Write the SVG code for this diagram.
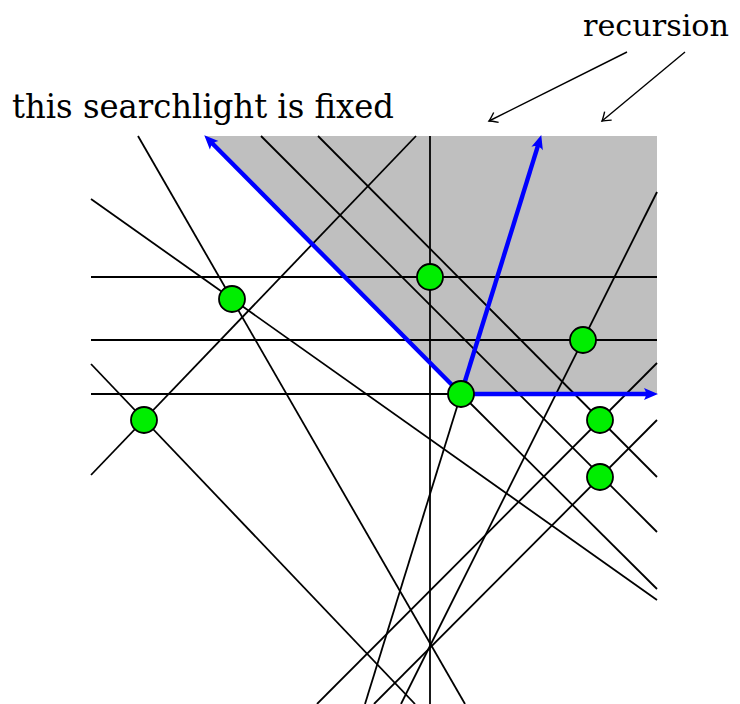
<svg xmlns="http://www.w3.org/2000/svg" width="740" height="704" viewBox="0 0 740 704">
  <style>
    .ln { stroke: #000; stroke-width: 1.8; fill: none; }
    .blue { stroke: #0000ff; stroke-width: 4.4; fill: none; marker-end: url(#bhead); }
    .ann { stroke: #000; stroke-width: 1.4; fill: none; marker-end: url(#tohead); }
    .pt { fill: #00ee00; stroke: #000; stroke-width: 1.8; }
    .lbl { font-family: "DejaVu Serif", "Liberation Serif", serif; font-size: 34px; fill: #000; }
  </style>
  <defs>
    <marker id="bhead" markerUnits="userSpaceOnUse" markerWidth="30" markerHeight="30" refX="0" refY="0" orient="auto" viewBox="-15 -15 30 30" overflow="visible">
      <path d="M8,0 L-6,-6 Q-2,0 -6,6 Z" fill="#0000ff"/>
    </marker>
    <marker id="tohead" markerUnits="userSpaceOnUse" markerWidth="30" markerHeight="30" refX="0" refY="0" orient="auto" viewBox="-15 -15 30 30" overflow="visible">
      <path d="M-8,-5.5 Q-2,-1 0,0 Q-2,1 -8,5.5" fill="none" stroke="#000" stroke-width="1.4"/>
    </marker>
  </defs>

  <polygon id="shade" points="205,136 657,136 657,394 461,394" fill="#bfbfbf"/>

  <g id="connectors">
    <line class="ln" x1="91" y1="277" x2="657" y2="277"/>
    <line class="ln" x1="91" y1="340" x2="657" y2="340"/>
    <line class="ln" x1="91" y1="394" x2="461" y2="394"/>
    <line class="ln" x1="430" y1="136" x2="430" y2="704"/>
    <line class="ln" x1="138" y1="136" x2="465" y2="704"/>
    <line class="ln" x1="91" y1="199" x2="657" y2="600"/>
    <line class="ln" x1="91" y1="475" x2="416" y2="136"/>
    <line class="ln" x1="91" y1="364" x2="415" y2="704"/>
    <line class="ln" x1="461" y1="394" x2="657" y2="589"/>
    <line class="ln" x1="365" y1="704" x2="461" y2="394"/>
    <line class="ln" x1="261" y1="136" x2="657" y2="532"/>
    <line class="ln" x1="318" y1="136" x2="657" y2="477"/>
    <line class="ln" x1="317" y1="704" x2="657" y2="363"/>
    <line class="ln" x1="374" y1="704" x2="657" y2="420"/>
    <line class="ln" x1="657" y1="192" x2="401" y2="704"/>

    <line class="blue" x1="461" y1="394" x2="209.9" y2="141"/>
    <line class="blue" x1="461" y1="394" x2="538.9" y2="142.7"/>
    <line class="blue" x1="461" y1="394" x2="650" y2="394"/>

    <line class="ann" x1="627" y1="52" x2="489" y2="121"/>
    <line class="ann" x1="685" y1="52" x2="602" y2="121"/>
  </g>

  <g id="p1"><circle class="pt" cx="232" cy="299" r="13"/></g>
  <g id="p2"><circle class="pt" cx="144" cy="420" r="13"/></g>
  <g id="p3"><circle class="pt" cx="430" cy="277" r="13"/></g>
  <g id="p4"><circle class="pt" cx="583" cy="340" r="13"/></g>
  <g id="p5"><circle class="pt" cx="461" cy="394" r="13"/></g>
  <g id="p6"><circle class="pt" cx="600" cy="420" r="13"/></g>
  <g id="p7"><circle class="pt" cx="600" cy="477" r="13"/></g>

  <g id="label-fixed"><text class="lbl" x="12" y="118" textLength="382" lengthAdjust="spacingAndGlyphs">this searchlight is fixed</text></g>
  <g id="label-recursion"><text class="lbl" x="583" y="36" style="font-size:30px" textLength="146" lengthAdjust="spacingAndGlyphs">recursion</text></g>
</svg>
